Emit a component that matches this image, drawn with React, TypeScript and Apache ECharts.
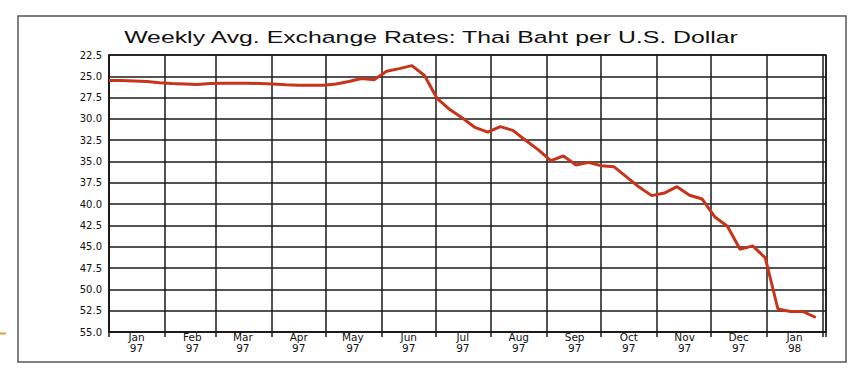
import React, { useEffect, useRef } from "react";
import * as echarts from "echarts";

const weekDates = [
  "1997-01-01", "1997-01-08", "1997-01-15", "1997-01-22", "1997-01-29",
  "1997-02-05", "1997-02-12", "1997-02-19", "1997-02-26",
  "1997-03-05", "1997-03-12", "1997-03-19", "1997-03-26",
  "1997-04-02", "1997-04-09", "1997-04-16", "1997-04-23", "1997-04-30",
  "1997-05-07", "1997-05-14", "1997-05-21", "1997-05-28",
  "1997-06-04", "1997-06-11", "1997-06-18", "1997-06-25",
  "1997-07-02", "1997-07-09", "1997-07-16", "1997-07-23", "1997-07-30",
  "1997-08-06", "1997-08-13", "1997-08-20", "1997-08-27",
  "1997-09-03", "1997-09-10", "1997-09-17", "1997-09-24",
  "1997-10-01", "1997-10-08", "1997-10-15", "1997-10-22", "1997-10-29",
  "1997-11-05", "1997-11-12", "1997-11-19", "1997-11-26",
  "1997-12-03", "1997-12-10", "1997-12-17", "1997-12-24", "1997-12-31",
  "1998-01-07", "1998-01-14", "1998-01-21", "1998-01-28",
];

const bahtPerDollar = [
  25.5, 25.5, 25.55, 25.6, 25.75,
  25.85, 25.9, 25.95, 25.85,
  25.8, 25.8, 25.8, 25.85,
  25.9, 26.0, 26.05, 26.05, 26.05,
  25.9, 25.6, 25.25, 25.4,
  24.4, 24.1, 23.75, 24.9,
  27.6, 28.9, 29.9, 31.0, 31.55,
  30.9, 31.35, 32.5, 33.6,
  34.9, 34.35, 35.4, 35.1,
  35.5, 35.6, 36.8, 38.0, 39.0,
  38.7, 37.95, 38.95, 39.4,
  41.5, 42.6, 45.3, 44.9, 46.3,
  52.3, 52.6, 52.6, 53.3,
];

const monthNames = ["Jan", "Feb", "Mar", "Apr", "May", "Jun", "Jul", "Aug", "Sep", "Oct", "Nov", "Dec"];
const yMin = 22.5;
const yMax = 55;
const yStep = 2.5;
const titleText = "Weekly Avg. Exchange Rates: Thai Baht per U.S. Dollar";

export default function App() {
  const ref = useRef<HTMLDivElement>(null);
  useEffect(() => {
    if (!ref.current) return;
    const chart = echarts.init(ref.current, null, { renderer: "svg" });
    const seriesData = weekDates.map((d, i) => [d, bahtPerDollar[i]]);
    const endLabel = new Date(1998, 1, 1).getTime();
    chart.setOption({
      animation: false,
      backgroundColor: "#ffffff",
      grid: {
        left: 109,
        top: 55,
        right: 34,
        bottom: 47,
        show: true,
        borderColor: "#1a1a1a",
        borderWidth: 1.5,
        backgroundColor: "transparent",
      },
      graphic: [
        {
          type: "rect",
          shape: { x: 18, y: 16, width: 828, height: 346 },
          style: { fill: "none", stroke: "#555555", lineWidth: 1.5 },
          silent: true,
        },
        {
          type: "line",
          shape: { x1: 0, y1: 333.5, x2: 6, y2: 333.5 },
          style: { stroke: "#d9a441", lineWidth: 2 },
          silent: true,
        },
        {
          type: "text",
          x: 431,
          y: 29,
          scaleX: 1.46,
          scaleY: 1,
          style: {
            text: titleText,
            font: "17px 'Liberation Sans', Arial, sans-serif",
            fill: "#111111",
            align: "center",
            verticalAlign: "top",
          },
          silent: true,
        },
      ],
      xAxis: {
        type: "time",
        min: new Date(1997, 0, 1).getTime(),
        max: new Date(1998, 1, 2, 16).getTime(),
        splitNumber: 13,
        minInterval: 28 * 86400000,
        maxInterval: 31 * 86400000,
        axisLine: { show: true, lineStyle: { color: "#1a1a1a", width: 1.5 } },
        axisTick: { show: true, length: 5, lineStyle: { color: "#1a1a1a", width: 1.5 } },
        splitLine: { show: true, lineStyle: { color: "#1a1a1a", width: 1.5 } },
        axisLabel: {
          show: true,
          hideOverlap: false,
          showMinLabel: true,
          showMaxLabel: true,
          align: "left",
          margin: 0,
          formatter: (value: number) => {
            if (value >= endLabel) return "";
            const d = new Date(value);
            const mon = monthNames[d.getMonth()];
            const yr = String(d.getFullYear()).slice(2);
            return `{m|${mon}}\n{m|${yr}}`;
          },
          rich: {
            m: {
              width: 55,
              align: "center",
              fontFamily: "DejaVu Sans",
              fontSize: 10.5,
              lineHeight: 10.5,
              color: "#111111",
            },
          },
        },
      },
      yAxis: {
        type: "value",
        inverse: true,
        min: yMin,
        max: yMax,
        interval: yStep,
        axisLine: { show: true, lineStyle: { color: "#1a1a1a", width: 1.5 } },
        axisTick: { show: false },
        splitLine: { show: true, lineStyle: { color: "#1a1a1a", width: 1.5 } },
        axisLabel: {
          margin: 7,
          fontFamily: "DejaVu Sans",
          fontSize: 10,
          color: "#111111",
          formatter: (v: number) => v.toFixed(1),
        },
      },
      series: [
        {
          type: "line",
          data: seriesData,
          showSymbol: false,
          symbol: "none",
          lineStyle: { color: "#c8341a", width: 3 },
          z: 5,
        },
      ],
    });
    return () => chart.dispose();
  }, []);
  return <div ref={ref} style={{ width: 860, height: 379, position: "absolute", left: 0, top: 0 }} />;
}
